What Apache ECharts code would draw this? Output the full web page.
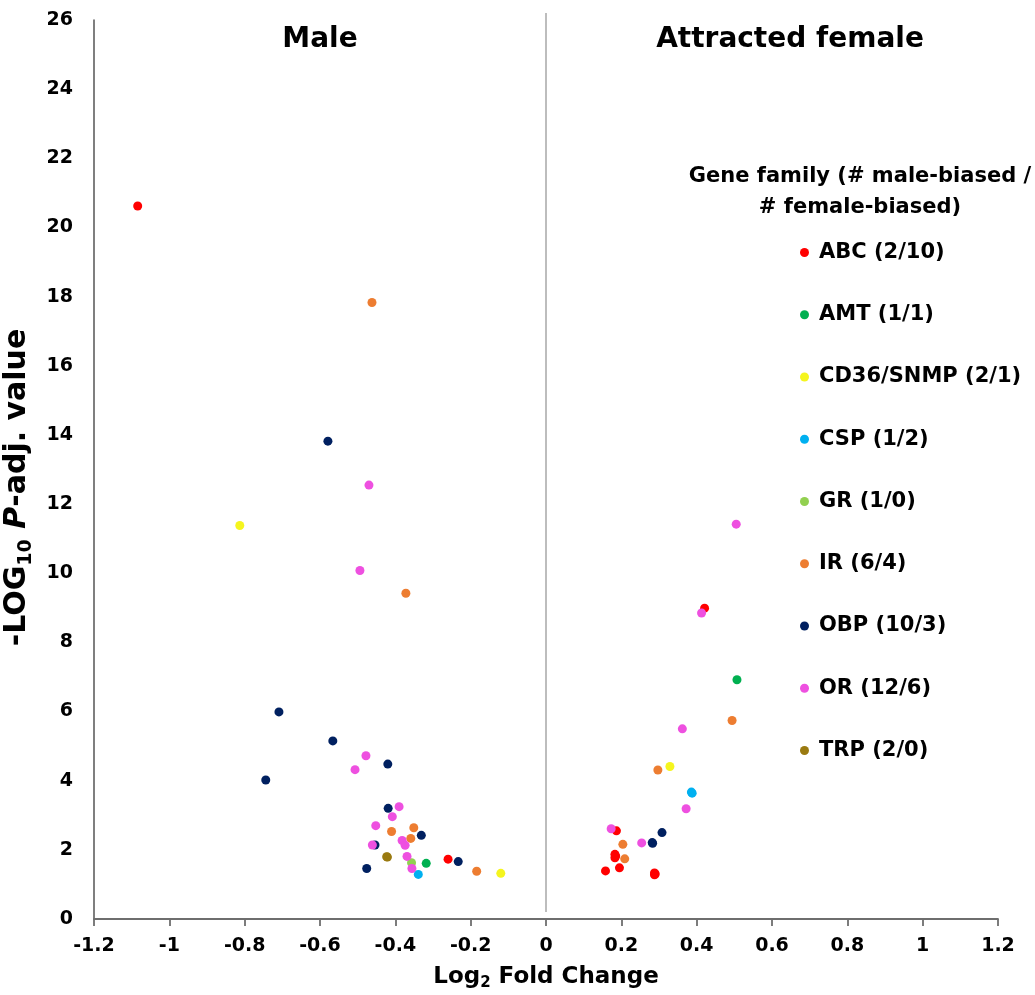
<!DOCTYPE html>
<html>
<head>
<meta charset="utf-8">
<script src="https://cdn.jsdelivr.net/npm/echarts@6/dist/echarts.min.js"></script>
<style>
html,body{margin:0;padding:0;background:#fff;}
#chart{width:1035px;height:995px;}
</style>
</head>
<body>
<div id="chart"></div>
<script>
// Gene families (legend labels) and colours
const families = ['ABC (2/10)','AMT (1/1)','CD36/SNMP (2/1)','CSP (1/2)','GR (1/0)','IR (6/4)','OBP (10/3)','OR (12/6)','TRP (2/0)'];
const familyColors = ['#FF0000','#00B050','#F5F51E','#00B0F0','#92D050','#ED7D31','#002060','#EE50E0','#9A7A10'];

// Points: [log2 fold change, -log10 P-adj]
const ABC = [[-1.084,20.62],[-0.260,1.73],
  [0.421,8.99],[0.187,2.55],[0.183,1.87],[0.183,1.77],[0.185,1.82],[0.195,1.48],[0.158,1.39],[0.288,1.33],[0.288,1.28],[0.290,1.30]];
const AMT = [[-0.318,1.61],[0.507,6.92]];
const CD36 = [[-0.813,11.38],[-0.120,1.32],[0.329,4.41]];
const CSP = [[-0.339,1.29],[0.388,3.64],[0.386,3.67]];
const GR = [[-0.357,1.63]];
const IR = [[-0.462,17.83],[-0.372,9.42],[-0.351,2.64],[-0.410,2.53],[-0.359,2.33],[-0.184,1.38],
  [0.494,5.74],[0.297,4.31],[0.204,2.16],[0.209,1.74]];
const OBP = [[-0.579,13.82],[-0.709,5.99],[-0.566,5.15],[-0.744,4.02],[-0.420,4.48],[-0.419,3.20],[-0.331,2.42],[-0.454,2.14],[-0.233,1.66],[-0.476,1.46],
  [0.308,2.50],[0.282,2.21],[0.283,2.19]];
const OR = [[-0.470,12.55],[-0.494,10.08],[-0.478,4.72],[-0.507,4.32],[-0.390,3.25],[-0.408,2.96],[-0.452,2.70],[-0.382,2.27],[-0.374,2.13],[-0.461,2.14],[-0.369,1.81],[-0.356,1.46],
  [0.505,11.42],[0.413,8.85],[0.362,5.50],[0.372,3.19],[0.173,2.61],[0.254,2.20]];
const TRP = [[-0.421,1.79],[-0.423,1.80]];
const familyData = [ABC, AMT, CD36, CSP, GR, IR, OBP, OR, TRP];

// Axis ranges / ticks
const xMin = -1.2, xMax = 1.2, xStep = 0.2;
const yMin = 0, yMax = 26, yStep = 2;
const dividerLine = [[0, 26.2], [0, 0.2]];
const panelTitles = ['Male','Attracted female'];
const legendTitle = ['Gene family (# male-biased /', '# female-biased)'];

const FONT = '"DejaVu Sans", Arial, sans-serif';
const chart = echarts.init(document.getElementById('chart'), null, {renderer:'canvas'});

const series = [{
  type: 'line',
  data: dividerLine,
  silent: true,
  showSymbol: false,
  symbol: 'none',
  clip: false,
  lineStyle: {color: '#BDBDBD', width: 2},
  z: 1
}];
families.forEach((name, i) => series.push({
  name: name,
  type: 'scatter',
  data: familyData[i],
  symbol: 'circle',
  symbolSize: 9,
  itemStyle: {color: familyColors[i], opacity: 1},
  emphasis: {disabled: true},
  z: 3
}));

const option = {
  backgroundColor: '#fff',
  animation: false,
  textStyle: {fontFamily: FONT},
  grid: {left: 94, right: 37, top: 20, bottom: 76, outerBoundsMode: 'none', containLabel: false},
  xAxis: {
    type: 'value', min: xMin, max: xMax, interval: xStep,
    name: '{a|Log}{s|2}{a| Fold Change}',
    nameLocation: 'middle', nameGap: 44,
    nameTextStyle: {
      rich: {
        a: {fontSize: 23, fontWeight: 'bold', color: '#000', fontFamily: FONT},
        s: {fontSize: 15, fontWeight: 'bold', color: '#000', fontFamily: FONT, padding: [13,0,0,0]}
      }
    },
    axisLine: {show: true, onZero: false, lineStyle: {color: '#6E6E6E', width: 1.8}},
    axisTick: {show: true, inside: false, length: 7, lineStyle: {color: '#6E6E6E', width: 1.8}},
    splitLine: {show: false},
    axisLabel: {fontSize: 19, fontWeight: 'bold', color: '#000', margin: 18, fontFamily: FONT}
  },
  yAxis: {
    type: 'value', min: yMin, max: yMax, interval: yStep,
    name: '{a|-LOG}{s|10}{a| }{i|P}{a|-adj. value}',
    nameLocation: 'middle', nameGap: 36, nameRotate: 90,
    nameTextStyle: {
      padding: [0, 36, 0, 0],
      rich: {
        a: {fontSize: 30, fontWeight: 'bold', color: '#000', fontFamily: FONT},
        i: {fontSize: 30, fontWeight: 'bold', fontStyle: 'italic', color: '#000', fontFamily: FONT},
        s: {fontSize: 19, fontWeight: 'bold', color: '#000', fontFamily: FONT, padding: [17,0,0,0]}
      }
    },
    axisLine: {show: true, onZero: false, lineStyle: {color: '#555', width: 1.5}},
    axisTick: {show: false},
    splitLine: {show: false},
    axisLabel: {fontSize: 19, fontWeight: 'bold', color: '#000', margin: 21, fontFamily: FONT}
  },
  legend: {
    orient: 'vertical',
    left: 795, top: 236,
    icon: 'circle',
    itemWidth: 9, itemHeight: 9,
    itemGap: 39.25,
    selectedMode: false,
    data: families,
    textStyle: {fontSize: 21, fontWeight: 'bold', color: '#000', fontFamily: FONT, lineHeight: 23, padding: [0,0,0,5]}
  },
  graphic: [
    {type: 'text', x: 320, y: 40, style: {text: panelTitles[0], font: 'bold 28px ' + FONT, fill: '#000', textAlign: 'center', textVerticalAlign: 'middle'}},
    {type: 'text', x: 790, y: 40, style: {text: panelTitles[1], font: 'bold 28px ' + FONT, fill: '#000', textAlign: 'center', textVerticalAlign: 'middle'}},
    {type: 'text', x: 860, y: 177, style: {text: legendTitle[0], font: 'bold 21px ' + FONT, fill: '#000', textAlign: 'center', textVerticalAlign: 'middle'}},
    {type: 'text', x: 860, y: 208, style: {text: legendTitle[1], font: 'bold 21px ' + FONT, fill: '#000', textAlign: 'center', textVerticalAlign: 'middle'}}
  ],
  series: series
};
chart.setOption(option);
</script>
</body>
</html>
